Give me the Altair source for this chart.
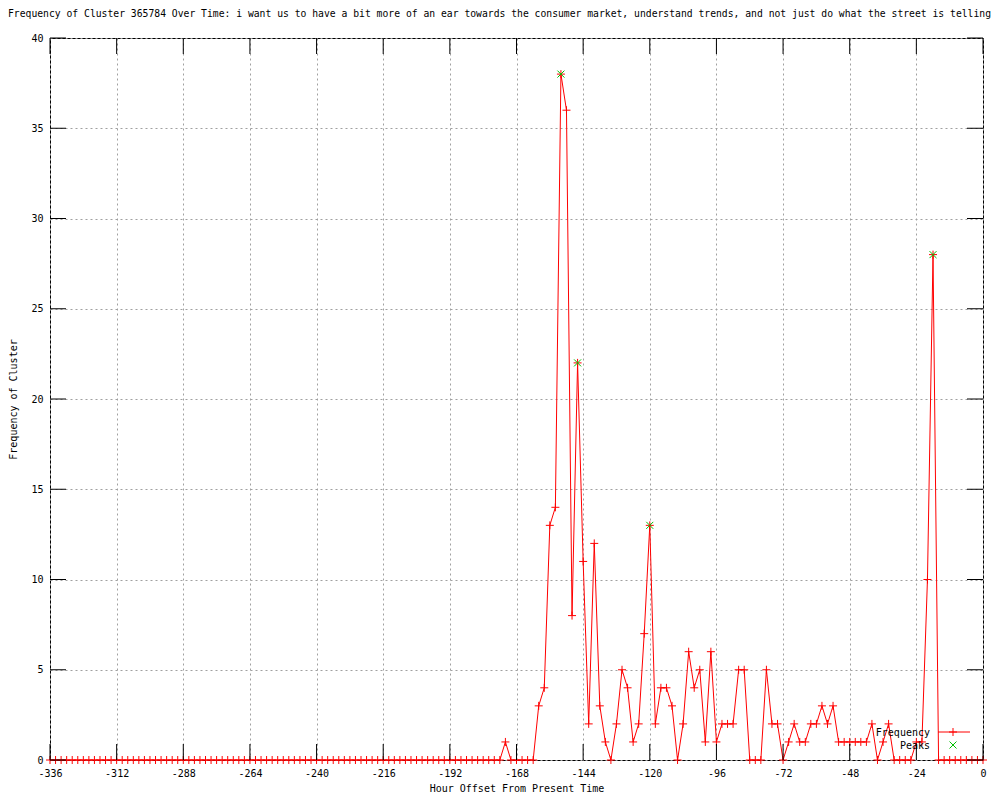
import altair as alt
import pandas as pd

# ---- data (2-hour bins) ----
hours = list(range(-336, 1, 2))
freq = [
    0, 0, 0, 0, 0, 0, 0, 0, 0, 0, 0, 0, 0, 0, 0, 0, 0, 0, 0, 0,   # -336 .. -298
    0, 0, 0, 0, 0, 0, 0, 0, 0, 0, 0, 0, 0, 0, 0, 0, 0, 0, 0, 0,   # -296 .. -258
    0, 0, 0, 0, 0, 0, 0, 0, 0, 0, 0, 0, 0, 0, 0, 0, 0, 0, 0, 0,   # -256 .. -218
    0, 0, 0, 0, 0, 0, 0, 0, 0, 0, 0, 0, 0, 0, 0, 0, 0, 0, 0, 0,   # -216 .. -178
    0, 0,                                                         # -176 .. -174
    1, 0, 0, 0, 0, 0,                                             # -172 .. -162
    3, 4, 13, 14, 38, 36, 8, 22, 11, 2,                           # -160 .. -142
    12, 3, 1, 0, 2, 5, 4, 1, 2, 7,                                # -140 .. -122
    13, 2, 4, 4, 3, 0, 2, 6, 4, 5,                                # -120 .. -102
    1, 6, 1, 2, 2, 2, 5, 5, 0, 0,                                 # -100 .. -82
    0, 5, 2, 2, 0, 1, 2, 1, 1, 2,                                 # -80 .. -62
    2, 3, 2, 3, 1, 1, 1, 1, 1, 1,                                 # -60 .. -42
    2, 0, 1, 2, 0, 0, 0, 0, 1, 1,                                 # -40 .. -22
    10, 28,                                                       # -20 .. -18
    0, 0, 0, 0, 0, 0, 0, 0, 0,                                    # -16 .. 0
]
peak_hours = [-152, -146, -120, -18]
peak_vals = [38, 22, 13, 28]

x_ticks = [-336, -312, -288, -264, -240, -216, -192, -168, -144, -120, -96, -72, -48, -24, 0]
y_ticks = [0, 5, 10, 15, 20, 25, 30, 35, 40]
legend_labels = ["Frequency", "Peaks"]

title_text = ("Frequency of Cluster 365784 Over Time: i want us to have a bit more of an ear "
              "towards the consumer market, understand trends, and not just do what the street is telling")

W, H = 933, 722
FONT = "DejaVu Sans Mono"
RED = "#ff0000"
GREEN = "#00c000"
PLUS = "M-1,0L1,0M0,-1L0,1"
CROSS = "M-1,-1L1,1M-1,1L1,-1"

df = pd.DataFrame({"hour": hours, "freq": freq})
pk = pd.DataFrame({"hour": peak_hours, "freq": peak_vals})
xt = pd.DataFrame({"hour": x_ticks})
yt = pd.DataFrame({"freq": y_ticks})

xscale = alt.Scale(domain=[-336, 0], nice=False, zero=False)
yscale = alt.Scale(domain=[0, 40], nice=False)

xaxis = alt.Axis(values=x_ticks, title="Hour Offset From Present Time", grid=True,
                 gridColor="#a0a0a0", gridDash=[2, 3], gridWidth=1, ticks=False, tickSize=0,
                 domain=False, labelFont=FONT, labelFontSize=10, labelColor="black",
                 labelPadding=8, labelExpr="'' + datum.value", labelFlush=False,
                 titleFont=FONT, titleFontSize=10, titleFontWeight="normal", titleColor="black",
                 titleY=28, titleBaseline="middle")
yaxis = alt.Axis(values=y_ticks, title="Frequency of Cluster", grid=True,
                 gridColor="#a0a0a0", gridDash=[2, 3], gridWidth=1, ticks=False, tickSize=0,
                 domain=False, labelFont=FONT, labelFontSize=10, labelColor="black",
                 labelPadding=7, labelExpr="'' + datum.value", labelFlush=False,
                 titleFont=FONT, titleFontSize=10, titleFontWeight="normal", titleColor="black",
                 titleX=-37, titleY=H / 2, titleAngle=270, titleBaseline="middle")

X = alt.X("hour:Q", scale=xscale, axis=xaxis)
Y = alt.Y("freq:Q", scale=yscale, axis=yaxis)

line = alt.Chart(df).mark_line(color=RED, strokeWidth=1).encode(x=X, y=Y)
pts = alt.Chart(df).mark_point(shape=PLUS, size=64, color=RED, filled=False,
                               strokeWidth=1, opacity=1).encode(x=X, y=Y)
peaks = alt.Chart(pk).mark_point(shape=CROSS, size=49, color=GREEN, filled=False,
                                 strokeWidth=1, opacity=1).encode(x=X, y=Y)

# inward major tick marks on all four sides (gnuplot style)
TL = 16
bt = alt.Chart(xt).mark_rule(color="black", strokeWidth=1).encode(
    x=X, y=alt.value(H), y2=alt.value(H - TL))
tt = alt.Chart(xt).mark_rule(color="black", strokeWidth=1).encode(
    x=X, y=alt.value(0), y2=alt.value(TL))
lt = alt.Chart(yt).mark_rule(color="black", strokeWidth=1).encode(
    y=Y, x=alt.value(0), x2=alt.value(TL))
rt = alt.Chart(yt).mark_rule(color="black", strokeWidth=1).encode(
    y=Y, x=alt.value(W), x2=alt.value(W - TL))

# legend (bottom right, inside the plot)
lg1 = alt.Chart(pd.DataFrame({"label": [legend_labels[0]]})).mark_text(
    align="right", baseline="middle", font=FONT, fontSize=10, color="black").encode(
    text="label:N", x=alt.value(880), y=alt.value(695))
lg2 = alt.Chart(pd.DataFrame({"label": [legend_labels[1]]})).mark_text(
    align="right", baseline="middle", font=FONT, fontSize=10, color="black").encode(
    text="label:N", x=alt.value(880), y=alt.value(708))
lg_line = alt.Chart(pd.DataFrame({"label": [legend_labels[0]]})).mark_rule(
    color=RED, strokeWidth=1).encode(x=alt.value(888), x2=alt.value(920), y=alt.value(694))
lg_plus = alt.Chart(pd.DataFrame({"label": [legend_labels[0]]})).mark_point(
    shape=PLUS, size=64, color=RED, filled=False, strokeWidth=1, opacity=1).encode(
    x=alt.value(903), y=alt.value(694))
lg_cross = alt.Chart(pd.DataFrame({"label": [legend_labels[1]]})).mark_point(
    shape=CROSS, size=49, color=GREEN, filled=False, strokeWidth=1, opacity=1).encode(
    x=alt.value(903), y=alt.value(707))

chart = alt.layer(line, pts, peaks, bt, tt, lt, rt, lg1, lg2, lg_line, lg_plus, lg_cross).properties(
    width=W, height=H,
    autosize=alt.AutoSizeParams(type="none"),
    padding={"left": 42, "top": 30, "right": 9, "bottom": 32},
    title=alt.TitleParams(title_text, anchor="start", frame="group", font=FONT, fontSize=9.72,
                          fontWeight="normal", color="black", dx=-42, offset=14),
    background="white",
).configure_view(stroke="black", strokeWidth=1)

chart.save("out.html", embed_options={"renderer": "svg", "actions": False})
